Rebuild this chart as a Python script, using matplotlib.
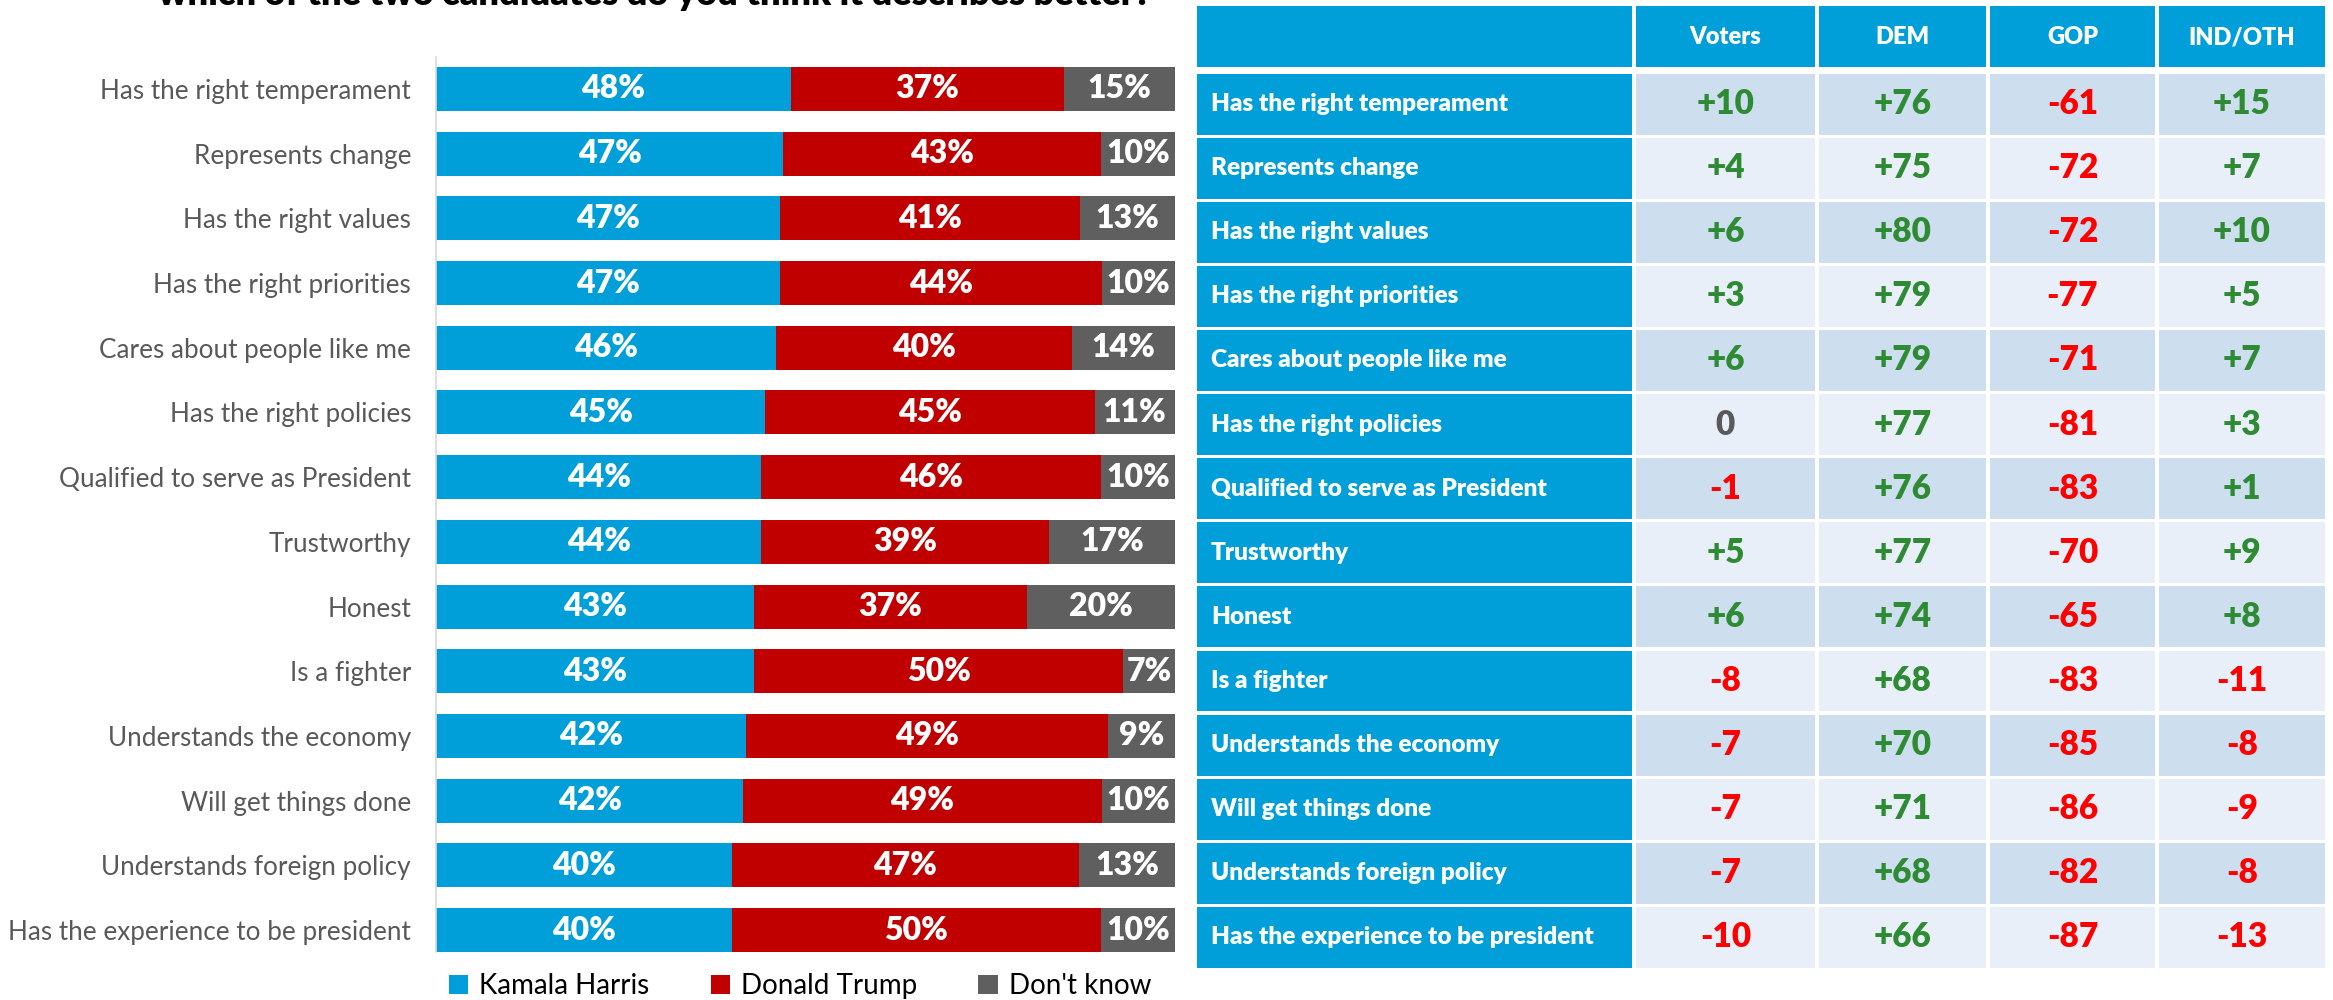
import numpy as np
import matplotlib.pyplot as plt
from matplotlib.patches import Rectangle

plt.rcParams['font.family'] = ['Lato', 'DejaVu Sans']

categories = ['Has the right temperament', 'Represents change', 'Has the right values',
              'Has the right priorities', 'Cares about people like me', 'Has the right policies',
              'Qualified to serve as President', 'Trustworthy', 'Honest', 'Is a fighter',
              'Understands the economy', 'Will get things done', 'Understands foreign policy',
              'Has the experience to be president']
harris = [48, 47, 47, 47, 46, 45, 44, 44, 43, 43, 42, 42, 40, 40]
trump = [37, 43, 41, 44, 40, 45, 46, 39, 37, 50, 49, 49, 47, 50]
dont_know = [15, 10, 13, 10, 14, 11, 10, 17, 20, 7, 9, 10, 13, 10]

table_cols = ['Voters', 'DEM', 'GOP', 'IND/OTH']
voters = [10, 4, 6, 3, 6, 0, -1, 5, 6, -8, -7, -7, -7, -10]
dem = [76, 75, 80, 79, 79, 77, 76, 77, 74, 68, 70, 71, 68, 66]
gop = [-61, -72, -72, -77, -71, -81, -83, -70, -65, -83, -85, -86, -82, -87]
ind = [15, 7, 10, 5, 7, 3, 1, 9, 8, -11, -8, -9, -8, -13]

title = 'which of the two candidates do you think it describes better?'

BLUE = '#009FDA'
RED = '#C00000'
GRAY = '#5F5F5F'

W, H = 2333, 1000
fig = plt.figure(figsize=(W / 100, H / 100), dpi=100)

# ---- stacked bars (100% stacked) ----
ax = fig.add_axes([436 / W, 1 - 952 / H, (1175 - 436) / W, (952 - 57) / H])
y = np.arange(len(categories))
h = np.array(harris, float)
t = np.array(trump, float)
d = np.array(dont_know, float)
tot = h + t + d
hs, ts, ds = h / tot, t / tot, d / tot

bh = 0.68
ax.barh(y, hs, height=bh, color=BLUE, label='Kamala Harris')
ax.barh(y, ts, left=hs, height=bh, color=RED, label='Donald Trump')
ax.barh(y, ds, left=hs + ts, height=bh, color=GRAY, label="Don't know")

for i in range(len(y)):
    ax.text(hs[i] / 2, y[i], f'{harris[i]}%', ha='center', va='center', color='white',
            fontsize=23, fontweight='heavy')
    ax.text(hs[i] + ts[i] / 2, y[i], f'{trump[i]}%', ha='center', va='center', color='white',
            fontsize=23, fontweight='heavy')
    ax.text(hs[i] + ts[i] + ds[i] / 2, y[i], f'{dont_know[i]}%', ha='center', va='center',
            color='white', fontsize=23, fontweight='heavy')

ax.set_xlim(0, 1)
ax.set_ylim(13 + 22 / 64.7, -32 / 64.7)
ax.set_yticks(y)
ax.set_yticklabels(categories, fontsize=18.8, color='#595959')
ax.tick_params(axis='y', length=0, pad=18)
ax.set_xticks([])
for s in ['top', 'right', 'bottom']:
    ax.spines[s].set_visible(False)
ax.spines['left'].set_color('#D9D9D9')
ax.spines['left'].set_linewidth(1.2)

fig.legend(loc='center', bbox_to_anchor=(800 / W, 1 - 986 / H), ncol=3, frameon=False,
           fontsize=20, handlelength=0.7, handleheight=0.7, handletextpad=0.4,
           columnspacing=2.2)

fig.text(655 / W, 1 - 5 / H, title, ha='center', va='baseline', fontsize=26,
         fontweight='heavy', color='black')

# ---- table ----
tx = fig.add_axes([0, 0, 1, 1])
tx.set_xlim(0, W)
tx.set_ylim(H, 0)
tx.axis('off')

col_edges = [1195, 1634, 1817, 1988, 2157, 2327]
head_top, head_bot = 6, 69
row_top0, row_h = 72, 64.1
gap = 1.6


def cell(x0, x1, y0, y1, color):
    tx.add_patch(Rectangle((x0 + gap, y0 + gap), x1 - x0 - 2 * gap, y1 - y0 - 2 * gap,
                           facecolor=color, edgecolor='none'))


for c in range(5):
    cell(col_edges[c], col_edges[c + 1], head_top - gap, head_bot, BLUE)
for c, name in enumerate(table_cols):
    tx.text((col_edges[c + 1] + col_edges[c + 2]) / 2, (head_top + head_bot) / 2, name,
            ha='center', va='center', color='white', fontsize=17, fontweight='heavy')

cols = [voters, dem, gop, ind]
for r, lab in enumerate(categories):
    y0 = row_top0 + r * row_h
    y1 = y0 + row_h
    ym = (y0 + y1) / 2
    cell(col_edges[0], col_edges[1], y0, y1, BLUE)
    tx.text(col_edges[0] + 16, ym, lab, ha='left', va='center', color='white',
            fontsize=17.6, fontweight='heavy')
    bg = '#CDDEEE' if r % 2 == 0 else '#E8EFF8'
    for c, vals in enumerate(cols):
        cell(col_edges[c + 1], col_edges[c + 2], y0, y1, bg)
        v = vals[r]
        if v > 0:
            s, col = f'+{v}', '#2E8B34'
        elif v < 0:
            s, col = f'{v}', '#FF0000'
        else:
            s, col = '0', '#595959'
        tx.text((col_edges[c + 1] + col_edges[c + 2]) / 2, ym, s, ha='center', va='center',
                color=col, fontsize=24, fontweight='heavy')

fig.savefig('out.png', dpi=100)
